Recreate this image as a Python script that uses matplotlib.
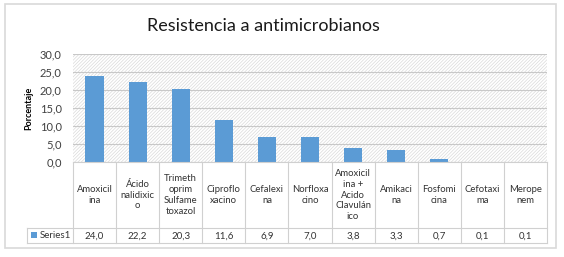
import matplotlib
matplotlib.use("Agg")
import matplotlib.pyplot as plt
from matplotlib.patches import Rectangle
from matplotlib.lines import Line2D
from matplotlib.transforms import blended_transform_factory

categories = ["Amoxicil\nina", "Ácido\nnalidixic\no", "Trimeth\noprim\nSulfame\ntoxazol",
              "Ciproflo\nxacino", "Cefalexi\nna", "Norfloxa\ncino",
              "Amoxicil\nina +\nAcido\nClavulán\nico", "Amikaci\nna", "Fosfomi\ncina",
              "Cefotaxi\nma", "Merope\nnem"]
values = [24.0, 22.2, 20.3, 11.6, 6.9, 7.0, 3.8, 3.3, 0.7, 0.1, 0.1]
series_name = "Series1"
yticks = [0, 5, 10, 15, 20, 25, 30]
title = "Resistencia a antimicrobianos"
ylabel = "Porcentaje"

plt.rcParams['font.family'] = ['Lato', 'DejaVu Sans']
plt.rcParams['hatch.linewidth'] = 0.5
W, H = 564, 257
fig = plt.figure(figsize=(W/100, H/100), dpi=100)
fig.patch.set_facecolor('white')

# outer frame
fig.add_artist(Rectangle((5/W, 1-248/H), 551/W, 244/H, transform=fig.transFigure,
                         fill=False, edgecolor='#d9d9d9', lw=1.2))

left, right, top, bottom = 73, 547, 54, 162
ax = fig.add_axes([left/W, 1-bottom/H, (right-left)/W, (bottom-top)/H])
n = len(values)
x = list(range(n))
ax.set_xlim(-0.5, n-0.5)
ax.set_ylim(0, 30)

# hatched background
ax.add_patch(Rectangle((0, 0), 1, 1, transform=ax.transAxes, facecolor='white',
                       edgecolor='#dadada', hatch='//////////', lw=0, zorder=0))
for t in yticks:
    ax.axhline(t, color='#c8c8c8', lw=0.8, zorder=1)

ax.bar(x, values, width=0.42, color='#5B9BD5', zorder=3)
for s in ax.spines.values():
    s.set_visible(False)
ax.set_xticks([])
ax.set_yticks(yticks)
ax.set_yticklabels([f"{t:.1f}".replace('.', ',') for t in yticks], fontsize=8, color='#404040')
ax.tick_params(axis='y', length=0, pad=8)
ax.set_ylabel(ylabel, fontsize=6.5, fontweight='bold', labelpad=5)

fig.text(263/W, 1-26/H, title, ha='center', va='center', fontsize=13, color='#1a1a1a')

# data table
tr = blended_transform_factory(ax.transData, fig.transFigure)
def fy(py):
    return 1 - py/H
lc = '#d0d0d0'
row1_top, row1_bot, row2_bot = 162, 228, 243
for i in range(n+1):
    xb = i - 0.5
    fig.add_artist(Line2D([xb, xb], [fy(row1_top), fy(row2_bot)], transform=tr, color=lc, lw=0.8))
tab_left = 27
fig.add_artist(Line2D([tab_left/W, right/W], [fy(row1_bot)]*2, transform=fig.transFigure, color=lc, lw=0.8))
fig.add_artist(Line2D([tab_left/W, right/W], [fy(row2_bot)]*2, transform=fig.transFigure, color=lc, lw=0.8))
fig.add_artist(Line2D([tab_left/W]*2, [fy(row1_bot), fy(row2_bot)], transform=fig.transFigure, color=lc, lw=0.8))
fig.add_artist(Line2D([left/W, right/W], [fy(row1_top)]*2, transform=fig.transFigure, color=lc, lw=0.8))

for i, (c, v) in enumerate(zip(categories, values)):
    fig.text(i, fy((row1_top+row1_bot)/2), c, transform=tr, ha='center', va='center',
             fontsize=6.8, color='#333333', linespacing=1.25)
    fig.text(i, fy((row1_bot+row2_bot)/2 + 0.5), f"{v:.1f}".replace('.', ','), transform=tr,
             ha='center', va='center', fontsize=7, color='#333333')

fig.add_artist(Rectangle((31/W, fy(238)), 6/W, 6/H, transform=fig.transFigure,
                         facecolor='#5B9BD5', edgecolor='none'))
fig.text(40/W, fy(235.5), series_name, ha='left', va='center', fontsize=7, color='#333333')

fig.savefig("out.png", dpi=100)
